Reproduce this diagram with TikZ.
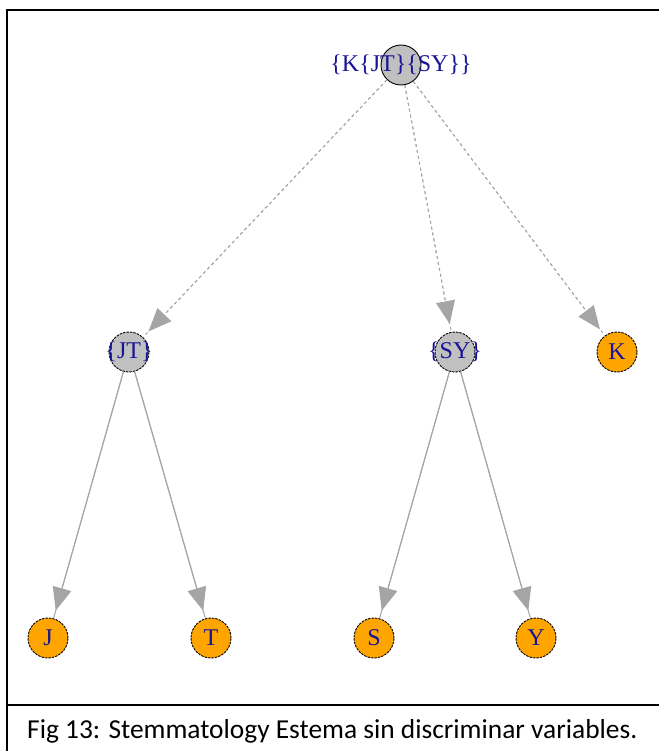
\documentclass[tikz,border=0pt]{standalone}
\usepackage{fontspec}
\setmainfont{Liberation Serif}
\newfontfamily\capfont{Carlito}
\usetikzlibrary{arrows.meta}
\definecolor{nodegray}{RGB}{192,192,192}
\definecolor{leaforange}{RGB}{255,165,0}
\definecolor{edgegray}{RGB}{165,165,165}
\definecolor{labelblue}{RGB}{25,20,150}
\begin{document}
\begin{tikzpicture}[x=1pt,y=-1pt,
  vert/.style={circle,minimum size=40pt,inner sep=0pt,draw=black,line width=0.9pt},
  vlabel/.style={label={[text=labelblue,font=\fontsize{24}{24}\selectfont,inner sep=0pt]center:#1}},
  inner/.style={vert,fill=nodegray},
  leaf/.style={vert,fill=leaforange,dash pattern=on 2.5pt off 1pt},
  tipped/.style={shorten >=8pt,-{Triangle[length=23pt,width=19pt,fill=edgegray]}},
  upper/.style={draw=edgegray,line width=0.9pt,dash pattern=on 3pt off 3pt},
  lower/.style={draw=edgegray,line width=1pt},
  frame/.style={draw=black,line width=2.8pt}]
\useasboundingbox (0,0) rectangle (658,751);
\fill[white] (0,0) rectangle (658,751);
% frame around the plot and the caption
\draw[frame] (7,751) -- (7,10) -- (660,10);
\draw[frame,line width=2.4pt] (7,705) -- (660,705);
% vertices
\node[inner,vlabel={\{K\{JT\}\{SY\}\}}] (root) at (401,65) {};
\node[inner,dash pattern=on 2.5pt off 1pt,vlabel={\{JT\}}] (jt) at (129,352) {};
\node[inner,dash pattern=on 2.5pt off 1pt,vlabel={\{SY\}}] (sy) at (455,352) {};
\node[leaf,vlabel=K] (k) at (617,352) {};
\node[leaf,vlabel=J] (j) at (48,638) {};
\node[leaf,vlabel=T] (t) at (211,638) {};
\node[leaf,vlabel=S] (s) at (374,638) {};
\node[leaf,vlabel=Y] (y) at (536,638) {};
% edges: the line runs to the rim, the head stops a little short of it
\foreach \a/\b in {root/jt,root/sy,root/k}{
  \draw[upper] (\a) -- (\b);
  \draw[upper,tipped] (\a) -- (\b);
}
\foreach \a/\b in {jt/j,jt/t,sy/s,sy/y}{
  \draw[lower] (\a) -- (\b);
  \draw[lower,tipped] (\a) -- (\b);
}
% caption
\node[anchor=west,font=\capfont\fontsize{27.4}{27.4}\selectfont,inner sep=0pt] (cap) at (27,731)
  {Fig 13: Stemmatology Estema sin discriminar variables.};
\end{tikzpicture}
\end{document}
